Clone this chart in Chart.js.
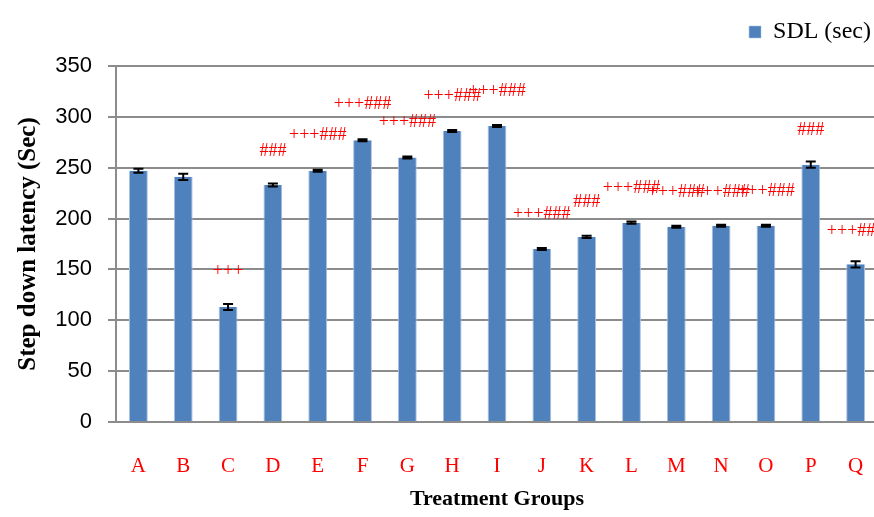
<!DOCTYPE html>
<html>
<head>
<meta charset="utf-8">
<script src="https://cdn.jsdelivr.net/npm/chart.js@4/dist/chart.umd.min.js"></script>
<style>
  html, body { margin: 0; padding: 0; background: #fff; overflow: hidden; }
  #wrap { width: 878px; height: 517px; }
</style>
</head>
<body>
<div id="wrap"><canvas id="chart"></canvas></div>
<script>
const groups = ["A", "B", "C", "D", "E", "F", "G", "H", "I", "J", "K", "L", "M", "N", "O", "P", "Q"];
const sdl = [247, 241, 113, 233, 247, 277, 260, 286, 291, 170, 182, 196, 192, 193, 193, 253, 155];
const sdlErr = [2, 3, 3, 1.5, 1, 1, 1, 1, 1, 1, 1, 1, 1, 1, 1, 3, 3];
const signif = ["", "", "+++", "###", "+++###", "+++###", "+++###", "+++###", "+++###",
  "+++###", "###", "+++###", "+++###", "+++###", "+++###", "###", "+++###"];
const signifAt = [0, 0, 148, 266, 282, 312, 295, 320, 325, 204, 216, 230, 226, 226, 227, 287, 188];
const yTicks = [0, 50, 100, 150, 200, 250, 300, 350];

const serif = "'Liberation Serif', 'Times New Roman', serif";
const gridGray = "#8c8c8c";

// error bars and the red significance marks
const marksPlugin = {
  id: "marks",
  afterLayout(chart) {
    // lift the legend a bit above the plot
    chart.legend.top -= 12;
    chart.legend.bottom -= 12;
  },
  afterDatasetsDraw(chart) {
    const c = chart.ctx;
    const x = chart.scales.x;
    const y = chart.scales.y;
    c.save();
    c.strokeStyle = "#000";
    c.lineWidth = 2;
    sdl.forEach((v, i) => {
      const px = x.getPixelForValue(i);
      const top = y.getPixelForValue(v + sdlErr[i]);
      const bot = y.getPixelForValue(v - sdlErr[i]);
      c.beginPath();
      c.moveTo(px, top); c.lineTo(px, bot);
      c.moveTo(px - 5, top); c.lineTo(px + 5, top);
      c.moveTo(px - 5, bot); c.lineTo(px + 5, bot);
      c.stroke();
    });
    c.fillStyle = "#ff0000";
    c.font = "18px " + serif;
    c.textAlign = "center";
    c.textBaseline = "middle";
    signif.forEach((s, i) => {
      if (!s) return;
      c.fillText(s, x.getPixelForValue(i), y.getPixelForValue(signifAt[i]));
    });
    c.restore();
  }
};

new Chart(document.getElementById("chart"), {
  type: "bar",
  data: {
    labels: groups,
    datasets: [{
      label: "SDL (sec)",
      data: sdl,
      backgroundColor: "#4f81bd",
      borderColor: "#a9c1e0",
      borderWidth: { left: 1, right: 1, top: 0, bottom: 0 },
      categoryPercentage: 1,
      barPercentage: 0.42
    }]
  },
  options: {
    responsive: true,
    maintainAspectRatio: false,
    animation: false,
    layout: { padding: { top: 0, right: 0, left: 0, bottom: 0 } },
    plugins: {
      legend: {
        position: "top",
        align: "end",
        labels: {
          boxWidth: 12,
          boxHeight: 12,
          padding: 7,
          color: "#000",
          font: { family: serif, size: 24 }
        }
      },
      tooltip: { enabled: false }
    },
    scales: {
      x: {
        grid: { display: false },
        border: { display: true, color: gridGray, width: 2 },
        ticks: { color: "#ff0000", padding: 24, font: { family: serif, size: 21 } },
        title: {
          display: true,
          text: "Treatment Groups",
          color: "#000",
          font: { family: serif, size: 22, weight: "bold" },
          padding: { top: 2 }
        },
        afterFit(scale) {
          scale.height = 95;
          scale.paddingLeft = 0;
          scale.paddingRight = 0;
        }
      },
      y: {
        min: 0,
        max: 350,
        afterBuildTicks(scale) { scale.ticks = yTicks.map(v => ({ value: v })); },
        grid: { color: gridGray, lineWidth: 2, tickLength: 8 },
        border: { display: true, color: gridGray, width: 2 },
        ticks: { color: "#000", padding: 16, font: { family: "'Liberation Sans', Arial, sans-serif", size: 22 } },
        title: {
          display: true,
          text: "Step down latency (Sec)",
          color: "#000",
          font: { family: serif, size: 25, weight: "bold" },
          padding: { top: 14 }
        },
        afterFit(scale) {
          scale.width = 116;
          scale.paddingTop = 66;
        }
      }
    }
  },
  plugins: [marksPlugin]
});
</script>
</body>
</html>
